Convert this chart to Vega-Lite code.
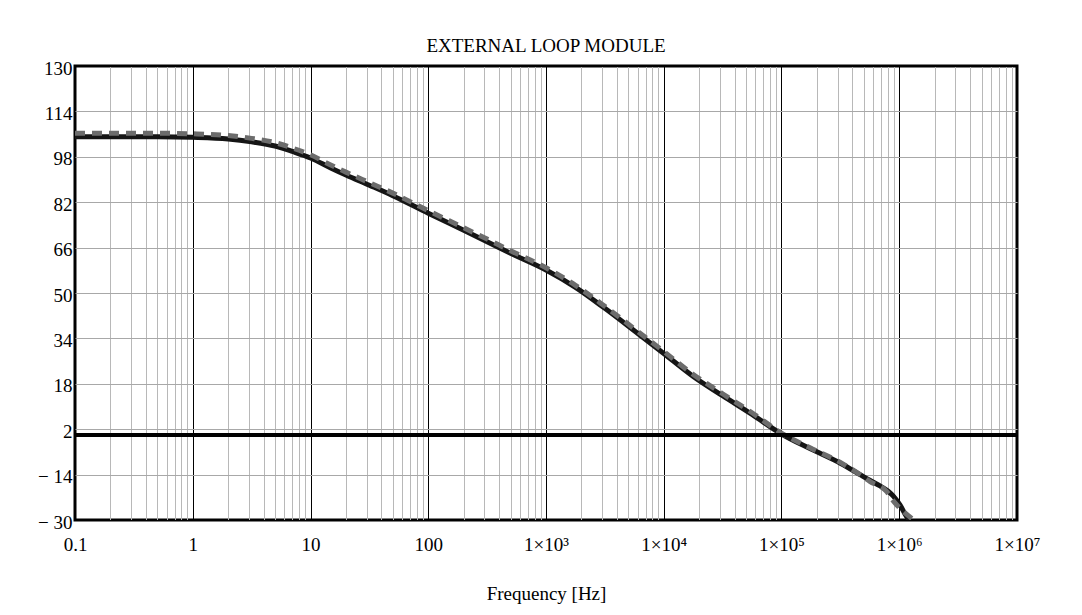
{
  "$schema": "https://vega.github.io/schema/vega-lite/v6.json",
  "width": 942,
  "height": 454,
  "autosize": {"type": "none"},
  "padding": {"left": 75, "top": 66, "right": 65, "bottom": 95},
  "background": "white",
  "title": {"text": "EXTERNAL LOOP MODULE", "font": "Liberation Serif", "fontSize": 19, "fontWeight": "normal", "color": "black", "offset": 3, "anchor": "middle"},
  "config": {"view": {"stroke": "black", "strokeWidth": 3}, "font": "Liberation Serif"},
  "datasets": {
    "curves": [
      {"f": 0.1, "db": 105.1, "series": "A"},
      {"f": 0.2, "db": 105.1, "series": "A"},
      {"f": 0.5, "db": 105.1, "series": "A"},
      {"f": 1, "db": 104.9, "series": "A"},
      {"f": 2, "db": 104.3, "series": "A"},
      {"f": 3.16, "db": 103.3, "series": "A"},
      {"f": 5, "db": 101.8, "series": "A"},
      {"f": 7, "db": 99.9, "series": "A"},
      {"f": 10, "db": 97.6, "series": "A"},
      {"f": 15, "db": 94.0, "series": "A"},
      {"f": 20, "db": 91.6, "series": "A"},
      {"f": 31.6, "db": 88.0, "series": "A"},
      {"f": 50, "db": 84.3, "series": "A"},
      {"f": 100, "db": 78.1, "series": "A"},
      {"f": 200, "db": 72.1, "series": "A"},
      {"f": 316, "db": 68.1, "series": "A"},
      {"f": 500, "db": 64.0, "series": "A"},
      {"f": 1000, "db": 58.1, "series": "A"},
      {"f": 1780, "db": 52.0, "series": "A"},
      {"f": 3160, "db": 44.6, "series": "A"},
      {"f": 5620, "db": 36.7, "series": "A"},
      {"f": 10000, "db": 28.7, "series": "A"},
      {"f": 17800, "db": 20.6, "series": "A"},
      {"f": 31600, "db": 13.8, "series": "A"},
      {"f": 56200, "db": 7.2, "series": "A"},
      {"f": 100000, "db": 0.3, "series": "A"},
      {"f": 178000, "db": -5.0, "series": "A"},
      {"f": 316000, "db": -10.0, "series": "A"},
      {"f": 464000, "db": -14.0, "series": "A"},
      {"f": 562000, "db": -16.0, "series": "A"},
      {"f": 687000, "db": -18.0, "series": "A"},
      {"f": 800000, "db": -19.8, "series": "A"},
      {"f": 891000, "db": -21.6, "series": "A"},
      {"f": 1014000, "db": -24.7, "series": "A"},
      {"f": 1156000, "db": -28.8, "series": "A"},
      {"f": 1230000, "db": -30, "series": "A"},
      {"f": 0.1, "db": 106.3, "series": "B"},
      {"f": 0.2, "db": 106.3, "series": "B"},
      {"f": 0.5, "db": 106.3, "series": "B"},
      {"f": 1, "db": 106.1, "series": "B"},
      {"f": 2, "db": 105.5, "series": "B"},
      {"f": 3.16, "db": 104.5, "series": "B"},
      {"f": 5, "db": 103.0, "series": "B"},
      {"f": 7, "db": 101.1, "series": "B"},
      {"f": 10, "db": 98.7, "series": "B"},
      {"f": 15, "db": 95.0, "series": "B"},
      {"f": 20, "db": 92.6, "series": "B"},
      {"f": 31.6, "db": 88.9, "series": "B"},
      {"f": 50, "db": 85.2, "series": "B"},
      {"f": 100, "db": 79.0, "series": "B"},
      {"f": 200, "db": 73.0, "series": "B"},
      {"f": 316, "db": 69.0, "series": "B"},
      {"f": 500, "db": 64.9, "series": "B"},
      {"f": 1000, "db": 58.9, "series": "B"},
      {"f": 1780, "db": 52.7, "series": "B"},
      {"f": 3160, "db": 45.3, "series": "B"},
      {"f": 5620, "db": 37.4, "series": "B"},
      {"f": 10000, "db": 29.4, "series": "B"},
      {"f": 17800, "db": 21.3, "series": "B"},
      {"f": 31600, "db": 14.5, "series": "B"},
      {"f": 56200, "db": 7.8, "series": "B"},
      {"f": 100000, "db": 0.6, "series": "B"},
      {"f": 178000, "db": -4.7, "series": "B"},
      {"f": 316000, "db": -9.7, "series": "B"},
      {"f": 464000, "db": -14.0, "series": "B"},
      {"f": 562000, "db": -16.4, "series": "B"},
      {"f": 776000, "db": -19.8, "series": "B"},
      {"f": 912000, "db": -23.8, "series": "B"},
      {"f": 1100000, "db": -27.2, "series": "B"},
      {"f": 1330000, "db": -30, "series": "B"}
    ],
    "reference": [{"db": 0}]
  },
  "layer": [
    {
      "data": {"name": "curves"},
      "encoding": {
        "x": {
          "field": "f", "type": "quantitative",
          "scale": {"type": "log", "domain": [0.1, 10000000], "nice": false},
          "axis": {
            "values": [0.1,0.2,0.3,0.4,0.5,0.6,0.7,0.8,0.9,1,2,3,4,5,6,7,8,9,10,20,30,40,50,60,70,80,90,100,200,300,400,500,600,700,800,900,1000,2000,3000,4000,5000,6000,7000,8000,9000,10000,20000,30000,40000,50000,60000,70000,80000,90000,100000,200000,300000,400000,500000,600000,700000,800000,900000,1000000,2000000,3000000,4000000,5000000,6000000,7000000,8000000,9000000,10000000],
            "grid": true,
            "gridColor": {"condition": {"test": "abs(log(datum.value)/LN10 - round(log(datum.value)/LN10)) < 0.001", "value": "#000000"}, "value": "#b8b8b8"},
            "gridWidth": 1,
            "ticks": false,
            "domain": false,
            "labelOverlap": false,
            "labelFlush": false,
            "labelExpr": "abs(log(datum.value)/LN10 - round(log(datum.value)/LN10)) < 0.001 ? (datum.value < 0.5 ? '0.1' : (datum.value < 500 ? format(datum.value, 'd') : '1×10' + ['³','⁴','⁵','⁶','⁷'][round(log(datum.value)/LN10) - 3])) : ''",
            "labelFont": "Liberation Serif",
            "labelFontSize": 19,
            "labelColor": "black",
            "labelPadding": 15,
            "title": "Frequency [Hz]",
            "titleFont": "Liberation Serif",
            "titleFontSize": 19,
            "titleFontWeight": "normal",
            "titleColor": "black",
            "titlePadding": 30
          }
        },
        "y": {
          "field": "db", "type": "quantitative",
          "scale": {"domain": [-30, 130], "nice": false, "zero": false},
          "axis": {
            "values": [-30, -14, 2, 18, 34, 50, 66, 82, 98, 114, 130],
            "grid": true,
            "gridColor": {"condition": {"test": "datum.value === -30 || datum.value === 130", "value": "#000000"}, "value": "#a8a8a8"},
            "gridWidth": 1,
            "ticks": false,
            "domain": false,
            "labelOverlap": false,
            "labelFlush": false,
            "labelExpr": "datum.value < 0 ? '− ' + (-datum.value) : '' + datum.value",
            "labelFont": "Liberation Serif",
            "labelFontSize": 19,
            "labelColor": "black",
            "labelPadding": 3,
            "labelOffset": 2,
            "title": null
          }
        }
      },
      "layer": [
        {
          "transform": [{"filter": "datum.series === 'A'"}],
          "mark": {"type": "line", "color": "#151515", "strokeWidth": 5, "interpolate": "monotone", "clip": true}
        },
        {
          "transform": [{"filter": "datum.series === 'B'"}],
          "mark": {"type": "line", "color": "#6c6c6c", "strokeWidth": 5, "strokeDash": [10, 7], "interpolate": "monotone", "clip": true}
        }
      ]
    },
    {
      "data": {"name": "reference"},
      "mark": {"type": "rule", "color": "black", "strokeWidth": 4},
      "encoding": {
        "y": {
          "field": "db", "type": "quantitative",
          "axis": {
            "values": [-30, -14, 2, 18, 34, 50, 66, 82, 98, 114, 130],
            "grid": true,
            "gridColor": {"condition": {"test": "datum.value === -30 || datum.value === 130", "value": "#000000"}, "value": "#a8a8a8"},
            "gridWidth": 1,
            "ticks": false,
            "domain": false,
            "labelOverlap": false,
            "labelFlush": false,
            "labelExpr": "datum.value < 0 ? '− ' + (-datum.value) : '' + datum.value",
            "labelFont": "Liberation Serif",
            "labelFontSize": 19,
            "labelColor": "black",
            "labelPadding": 3,
            "labelOffset": 2,
            "title": null
          }
        }
      }
    }
  ]
}
